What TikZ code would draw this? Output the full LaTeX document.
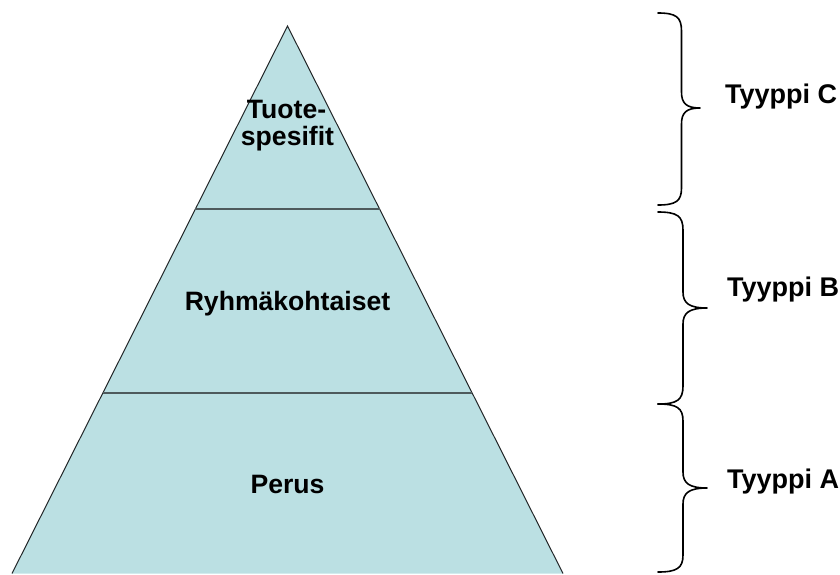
\documentclass[tikz,border=0pt]{standalone}
\usepackage{fontspec}
\setmainfont{Liberation Sans}
\usetikzlibrary{calc}
\begin{document}
\begin{tikzpicture}[x=1pt,y=-1pt,
  layerfill/.style={fill=pyrfill,draw=none},
  sideline/.style={draw=pyrline,line width=1pt},
  divider/.style={draw=divcol,line width=2.2pt},
  bracestyle/.style={draw=black,line width=1.6pt,line cap=round,line join=round},
  lbl/.style={font=\fontsize{26.6}{27}\selectfont\bfseries,inner sep=0pt,anchor=base},
  tlbl/.style={font=\fontsize{27}{27}\selectfont\bfseries,inner sep=0pt,anchor=base west}]
\definecolor{pyrfill}{RGB}{187,224,227}
\definecolor{pyrline}{RGB}{34,38,40}
\definecolor{divcol}{RGB}{78,90,92}
\useasboundingbox (0,0) rectangle (840,574);
% pyramid
\coordinate (apex) at (287.5,26);
\coordinate (bl) at (12,573.5);
\coordinate (br) at (563,573.5);
\fill[layerfill] (apex) -- (bl) -- (br) -- cycle;
\draw[sideline] (bl) -- (apex) -- (br);
\coordinate (d1l) at ($(apex)!0.3346!(bl)$);
\coordinate (d1r) at ($(apex)!0.3346!(br)$);
\coordinate (d2l) at ($(apex)!0.6709!(bl)$);
\coordinate (d2r) at ($(apex)!0.6709!(br)$);
\draw[divider] (d1l) -- (d1r);
\draw[divider] (d2l) -- (d2r);
% labels
\node[lbl] (tuote) at (286.5,118) {Tuote-};
\node[lbl] (spesifit) at (287.5,145) {spesifit};
\node[lbl] (ryhma) at (287.5,310) {Ryhmäkohtaiset};
\node[lbl] (perus) at (287.5,493) {Perus};
% braces
\draw[bracestyle] (658,13) .. controls (676,13) and (681.5,17) .. (681.5,31)
  -- (681.5,92) .. controls (681.5,103) and (686,108) .. (700,108)
  .. controls (686,108) and (681.5,113) .. (681.5,124)
  -- (681.5,188) .. controls (681.5,201) and (676,205) .. (658,205);
\draw[bracestyle] (658,212) .. controls (677,212) and (683,216) .. (683,230)
  -- (683,292) .. controls (683,303) and (689,308) .. (707,308)
  .. controls (689,308) and (683,313) .. (683,324)
  -- (683,386) .. controls (683,400) and (677,404) .. (658,404);
\draw[bracestyle] (658,404) .. controls (677,404) and (683,408) .. (683,421)
  -- (683,472) .. controls (683,483) and (689,488) .. (707,488)
  .. controls (689,488) and (683,493) .. (683,504)
  -- (683,555) .. controls (683,568) and (677,572) .. (658,572);
\node[tlbl] (tc) at (725,103) {Tyyppi C};
\node[tlbl] (tb) at (727,296) {Tyyppi B};
\node[tlbl] (ta) at (727,488) {Tyyppi A};
\end{tikzpicture}
\end{document}
